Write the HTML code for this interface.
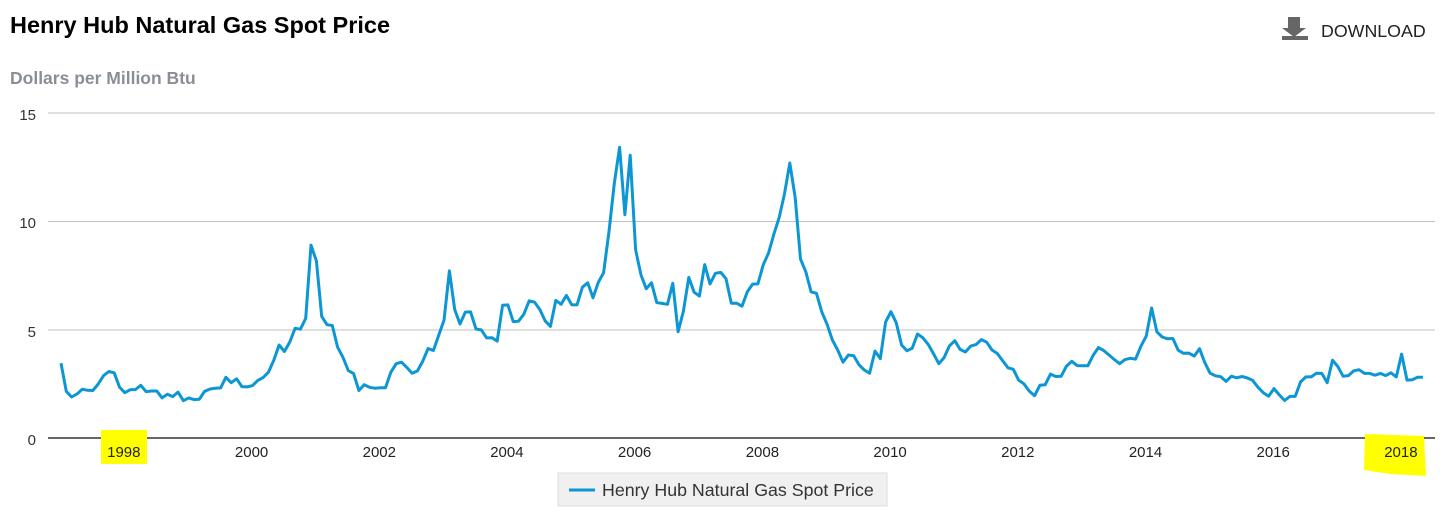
<!DOCTYPE html>
<html><head><meta charset="utf-8"><style>
body{margin:0;width:1446px;height:524px;background:#fff;font-family:"Liberation Sans",sans-serif;overflow:hidden;position:relative}
.t{position:absolute;left:10px;top:12px;font-size:23.5px;font-weight:bold;color:#000}
.u{position:absolute;left:10px;top:68px;font-size:17.5px;font-weight:bold;color:#8a8f96}
.dl{position:absolute;left:1321px;top:21px;font-size:17.8px;color:#222}
</style></head><body>
<div class="t">Henry Hub Natural Gas Spot Price</div>
<div class="u">Dollars per Million Btu</div>
<div class="dl">DOWNLOAD</div>
<svg width="1446" height="524" style="position:absolute;left:0;top:0" id="s">
<rect x="1288" y="17" width="12" height="12" fill="#666"/>
<polygon points="1282,28 1306,28 1294,37" fill="#666"/>
<rect x="1282" y="36" width="26" height="4" fill="#666"/>
<g stroke="#c0c0c0" stroke-width="1">
<line x1="48" y1="113" x2="1435" y2="113"/>
<line x1="48" y1="221.5" x2="1435" y2="221.5"/>
<line x1="48" y1="330" x2="1435" y2="330"/>
</g>
<line x1="48" y1="438" x2="1435" y2="438" stroke="#333" stroke-width="1.5"/>
<g font-size="15" fill="#333" text-anchor="end">
<text x="36" y="120">15</text><text x="36" y="228">10</text><text x="36" y="337">5</text><text x="36" y="445">0</text>
</g>
<rect x="101" y="430" width="46" height="34" fill="#ffff00"/>
<path d="M1365,434 L1424,436 L1426,476 L1390,474 L1364,470 Z" fill="#ffff00"/>
<g font-size="15" fill="#222" text-anchor="middle" id="xl"></g>
<rect x="558" y="473" width="329" height="33" fill="#f0f0f0" stroke="#ddd"/>
<line x1="569" y1="490" x2="595" y2="490" stroke="#0d96d4" stroke-width="3"/>
<text x="602" y="496" font-size="17.8" fill="#333">Henry Hub Natural Gas Spot Price</text>
<polyline id="p" fill="none" stroke="#0d96d4" stroke-width="3" stroke-linejoin="round"/>
</svg>
<script>
var d=[3.45,2.15,1.89,2.03,2.25,2.20,2.19,2.49,2.88,3.07,3.01,2.35,
2.09,2.23,2.24,2.43,2.14,2.17,2.17,1.85,2.02,1.91,2.12,1.72,
1.85,1.77,1.79,2.15,2.26,2.30,2.31,2.80,2.55,2.73,2.37,2.36,
2.42,2.66,2.79,3.04,3.59,4.29,3.99,4.43,5.06,5.02,5.52,8.90,
8.17,5.61,5.23,5.19,4.19,3.72,3.11,2.97,2.19,2.46,2.34,2.30,
2.32,2.32,3.03,3.43,3.50,3.26,2.99,3.09,3.55,4.13,4.04,4.74,
5.43,7.71,5.93,5.26,5.81,5.82,5.03,4.99,4.62,4.63,4.47,6.13,
6.14,5.37,5.39,5.71,6.33,6.27,5.93,5.41,5.15,6.35,6.17,6.58,
6.15,6.14,6.96,7.16,6.47,7.18,7.63,9.53,11.75,13.42,10.30,13.05,
8.69,7.54,6.89,7.16,6.25,6.21,6.17,7.14,4.90,5.85,7.41,6.73,
6.55,8.00,7.11,7.60,7.64,7.35,6.22,6.22,6.08,6.74,7.10,7.11,
7.99,8.54,9.41,10.18,11.27,12.69,11.09,8.26,7.67,6.74,6.68,5.82,
5.24,4.52,4.06,3.50,3.83,3.80,3.38,3.14,2.99,4.01,3.66,5.35,
5.83,5.32,4.29,4.03,4.14,4.80,4.63,4.32,3.89,3.43,3.71,4.25,
4.49,4.09,3.97,4.24,4.31,4.54,4.42,4.06,3.90,3.57,3.24,3.17,
2.67,2.50,2.17,1.95,2.43,2.46,2.95,2.84,2.85,3.32,3.54,3.34,
3.33,3.33,3.81,4.17,4.04,3.83,3.62,3.43,3.62,3.68,3.64,4.24,
4.71,6.00,4.90,4.66,4.58,4.59,4.05,3.91,3.92,3.78,4.12,3.48,
2.99,2.87,2.83,2.61,2.85,2.78,2.84,2.77,2.66,2.34,2.09,1.93,
2.28,1.99,1.73,1.92,1.92,2.59,2.82,2.82,2.99,2.98,2.55,3.59,
3.30,2.85,2.88,3.10,3.15,2.98,2.98,2.90,2.98,2.88,3.01,2.82,
3.87,2.67,2.69,2.80,2.80];
var pts=d.map(function(v,i){return (61+i*5.32).toFixed(1)+","+(438-v*21.67).toFixed(1)}).join(" ");
document.getElementById("p").setAttribute("points",pts);
var g=document.getElementById("xl"),h="";
for(var y=1998;y<=2018;y+=2){var x=60+(y-1997)*63.85;h+='<text x="'+x.toFixed(1)+'" y="457">'+y+'</text>';}
g.innerHTML=h;
</script>
</body></html>
